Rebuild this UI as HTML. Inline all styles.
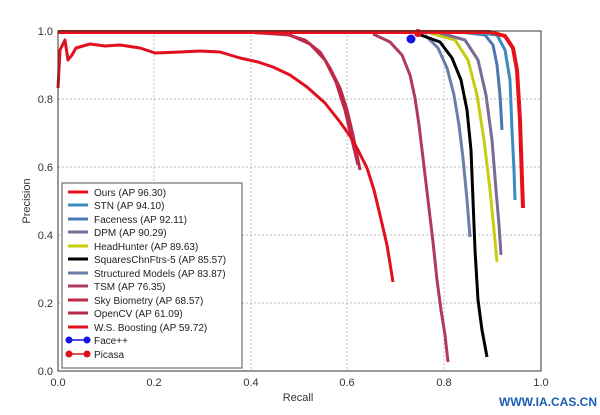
<!DOCTYPE html>
<html><head><meta charset="utf-8"><style>
html,body{margin:0;padding:0;background:#fff;}
svg{display:block;font-family:"Liberation Sans",sans-serif;}
</style></head><body>
<svg width="600" height="415" viewBox="0 0 600 415" xmlns="http://www.w3.org/2000/svg">
<rect width="600" height="415" fill="#fff"/>
<g stroke="#bbb" stroke-dasharray="2,2" stroke-width="1">
<line x1="154" y1="31" x2="154" y2="371"/><line x1="251" y1="31" x2="251" y2="371"/>
<line x1="347" y1="31" x2="347" y2="371"/><line x1="444" y1="31" x2="444" y2="371"/>
<line x1="58" y1="99" x2="541" y2="99"/><line x1="58" y1="167" x2="541" y2="167"/>
<line x1="58" y1="235" x2="541" y2="235"/><line x1="58" y1="303" x2="541" y2="303"/>
</g>
<g fill="none" stroke-width="3" stroke-linejoin="round">
<path d="M240,32 L285,34 L305,40 L320,52 L330,68 L340,88 L347,110 L353,135 L357,155 L360,170" stroke="#b82a4a"/>
<path d="M245,32 L290,35 L310,44 L325,60 L336,82 L345,110 L352,140 L358,165" stroke="#c0284a"/>
<path d="M58,88 L60,50 L65,40 L68,60 L72,55 L76,48 L90,44 L105,46 L120,45 L140,48 L155,53 L180,52 L200,51 L220,52 L240,58 L258,62 L273,67 L290,75 L307,87 L325,103 L340,122 L350,136 L358,150 L367,168 L374,190 L380,215 L387,245 L393,282" stroke="#e0101e"/>
<path d="M373,34 L390,42 L402,55 L410,75 L415,98 L419,125 L423,158 L428,200 L433,242 L437,280 L441,310 L445,335 L448,362" stroke="#b03a5e"/>
<path d="M425,35 L438,48 L447,68 L454,95 L459,125 L463,158 L467,200 L470,237" stroke="#6a7ea8"/>
<path d="M418,34 L440,42 L452,58 L461,80 L467,110 L471,150 L473,200 L475,250 L478,300 L482,330 L487,357" stroke="#000"/>
<path d="M430,33 L455,40 L468,60 L477,95 L484,140 L490,190 L494,230 L497,262" stroke="#c8cc10"/>
<path d="M440,33 L465,40 L478,60 L486,95 L492,140 L496,190 L499,225 L501,255" stroke="#7a6a95"/>
<path d="M460,32 L485,35 L493,45 L497,65 L500,95 L502,130" stroke="#4a78b0"/>
<path d="M470,32 L497,35 L505,50 L510,80 L512,130 L514,170 L515,200" stroke="#3a8cc0"/>
<path d="M58,32 L490,32 L505,36 L513,48 L517,70 L520,120 L522,180 L523,208" stroke="#e8101a" stroke-width="4"/>
</g>
<circle cx="411" cy="39" r="4.5" fill="#1515e0"/>
<circle cx="418" cy="33" r="4" fill="#e0101a"/>
<rect x="58" y="31" width="483" height="340" fill="none" stroke="#333" stroke-width="1"/>
<g font-size="11" fill="#333" text-anchor="end">
<text x="53" y="35">1.0</text><text x="53" y="103">0.8</text><text x="53" y="171">0.6</text>
<text x="53" y="239">0.4</text><text x="53" y="307">0.2</text><text x="53" y="375">0.0</text>
</g>
<g font-size="11" fill="#333" text-anchor="middle">
<text x="58" y="386">0.0</text><text x="154" y="386">0.2</text><text x="251" y="386">0.4</text>
<text x="347" y="386">0.6</text><text x="444" y="386">0.8</text><text x="541" y="386">1.0</text>
<text x="298" y="401">Recall</text>
<text transform="translate(30,201) rotate(-90)">Precision</text>
</g>
<rect x="62" y="183" width="180" height="185" fill="#fff" stroke="#555" stroke-width="1"/>
<g stroke-width="3">
<line x1="68" y1="192" x2="88" y2="192" stroke="#e8101a"/>
<line x1="68" y1="205" x2="88" y2="205" stroke="#3a8cc0"/>
<line x1="68" y1="219" x2="88" y2="219" stroke="#4a78b0"/>
<line x1="68" y1="232" x2="88" y2="232" stroke="#7a6a95"/>
<line x1="68" y1="246" x2="88" y2="246" stroke="#c8cc10"/>
<line x1="68" y1="259" x2="88" y2="259" stroke="#000"/>
<line x1="68" y1="273" x2="88" y2="273" stroke="#6a7ea8"/>
<line x1="68" y1="286" x2="88" y2="286" stroke="#b03a5e"/>
<line x1="68" y1="300" x2="88" y2="300" stroke="#c0284a"/>
<line x1="68" y1="313" x2="88" y2="313" stroke="#b82a4a"/>
<line x1="68" y1="327" x2="88" y2="327" stroke="#e0101e"/>
<line x1="68" y1="340" x2="88" y2="340" stroke="#1515e0" stroke-width="1.5"/>
<line x1="68" y1="354" x2="88" y2="354" stroke="#e0101a" stroke-width="1.5"/>
</g>
<circle cx="69" cy="340" r="3.5" fill="#1515e0"/><circle cx="87" cy="340" r="3.5" fill="#1515e0"/>
<circle cx="69" cy="354" r="3.5" fill="#e0101a"/><circle cx="87" cy="354" r="3.5" fill="#e0101a"/>
<g font-size="10" fill="#222">
<text x="94" y="196">Ours (AP 96.30)</text>
<text x="94" y="209">STN (AP 94.10)</text>
<text x="94" y="223">Faceness (AP 92.11)</text>
<text x="94" y="236">DPM (AP 90.29)</text>
<text x="94" y="250">HeadHunter (AP 89.63)</text>
<text x="94" y="263">SquaresChnFtrs-5 (AP 85.57)</text>
<text x="94" y="277">Structured Models (AP 83.87)</text>
<text x="94" y="290">TSM (AP 76.35)</text>
<text x="94" y="304">Sky Biometry (AP 68.57)</text>
<text x="94" y="317">OpenCV (AP 61.09)</text>
<text x="94" y="331">W.S. Boosting (AP 59.72)</text>
<text x="94" y="344">Face++</text>
<text x="94" y="358">Picasa</text>
</g>
<text x="597" y="406" font-size="12" font-weight="bold" fill="#1a5fb4" text-anchor="end">WWW.IA.CAS.CN</text>
</svg>
</body></html>
